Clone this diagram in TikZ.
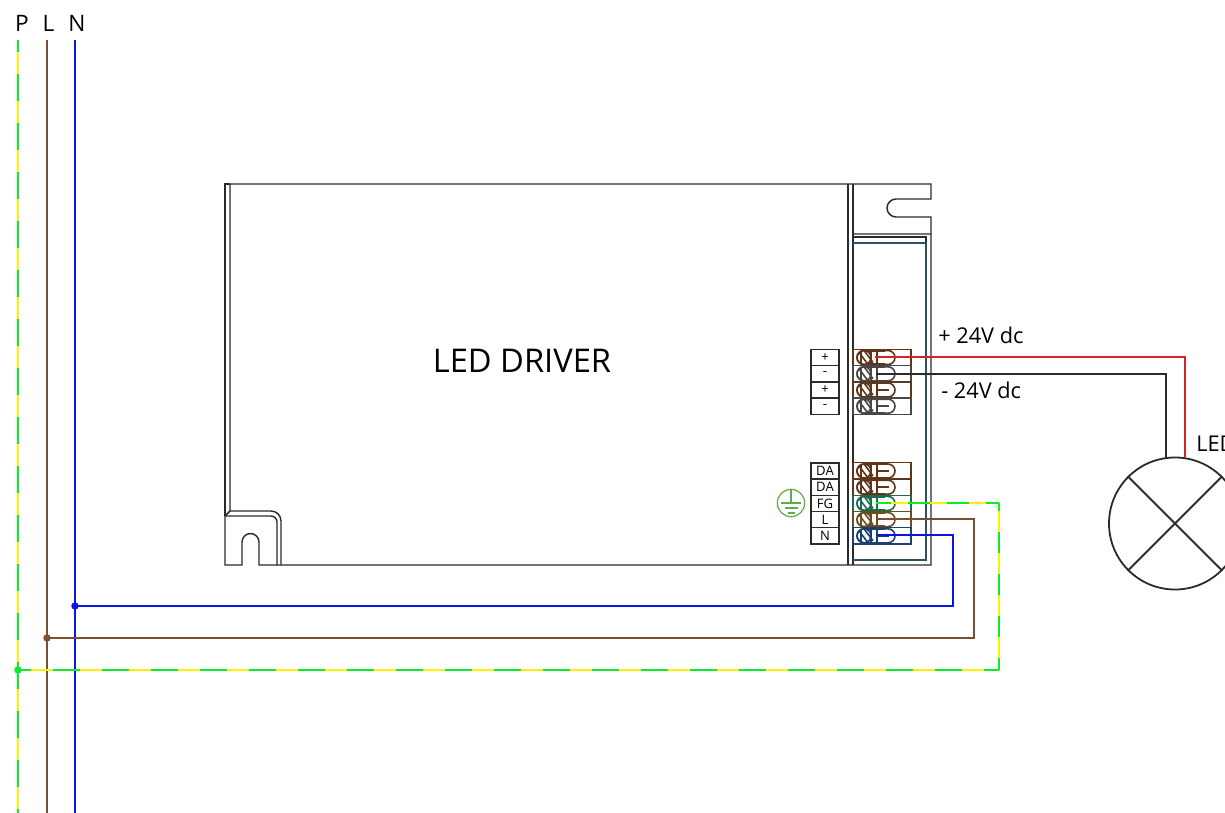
\documentclass[tikz,border=0pt]{standalone}
\usepackage{fontspec}
\setmainfont{Open Sans}
\definecolor{wblue}{HTML}{0A14E6}
\definecolor{wbrown}{HTML}{7B4F30}
\definecolor{wgreen}{HTML}{0CEB2C}
\definecolor{wyellow}{HTML}{FFF200}
\definecolor{wred}{HTML}{D2232A}
\definecolor{ink}{HTML}{2B2B2B}
\definecolor{tbrown}{HTML}{5F3418}
\definecolor{tgrey}{HTML}{474747}
\definecolor{tgreen}{HTML}{1B6B4E}
\definecolor{ttan}{HTML}{6A4E22}
\definecolor{tnavy}{HTML}{1B3F6E}
\definecolor{ground}{HTML}{5DAE4B}
\definecolor{slate}{HTML}{2F4F63}
\tikzset{
  x=0.75pt,y=-0.75pt,
  outline/.style={draw=ink,line width=1.1pt},
  thinline/.style={draw=ink,line width=0.9pt},
  wire/.style={line width=1.6pt,line join=miter},
  pe base/.style={wire,draw=wyellow},
  pe over/.style={wire,draw=wgreen,dash pattern=on 20.25pt off 16.5pt},
  pe rise/.style={wire,draw=wgreen,dash pattern=on 15.75pt off 15.75pt,dash phase=6.75pt},
  pe back/.style={wire,draw=wgreen,dash pattern=on 16.1pt off 13.1pt,dash phase=6.4pt},
  joint/.style={circle,inner sep=0pt,minimum size=5.6pt},
  tag/.style={draw=ink,line width=1pt,inner sep=0pt,minimum width=21pt,minimum height=12.2pt,font=\fontsize{9.8}{10}\selectfont,fill=white},
  termbox/.style={line width=0.9pt,inner sep=0pt,minimum width=43.5pt,minimum height=12.2pt},
  title/.style={inner sep=0pt,font=\fontsize{24.5}{28}\selectfont},
  caption/.style={inner sep=0pt,font=\fontsize{16.3}{18}\selectfont},
  phase/.style={inner sep=0pt,font=\fontsize{17}{18}\selectfont},
}
% name, centre y, colour
\newcommand{\termrow}[3]{%
  \node[termbox,draw=#3] (#1) at (882,#2) {};
  \begin{scope}[shift={(0,#2)},draw=#3,line width=1.2pt]
    \draw (864,-7) arc[start angle=270,end angle=90,radius=7] -- (888,7) arc[start angle=90,end angle=-90,radius=7] -- cycle;
    \draw (864,0) circle[radius=7];
    \draw (861,-6) -- (861,6) (871,-6) -- (871,6) (859,-5) -- (868,7) (864,-7) -- (873,5);
    \draw (877,-7) -- (877,7) (877,0) -- (889,0);
    \draw[line width=1.8pt] (866,-7) -- (885,-7) (866,7) -- (885,7);
  \end{scope}
}
\begin{document}
\begin{tikzpicture}
\useasboundingbox (0,0) rectangle (1225,813);
\clip (0,0) rectangle (1225,813);

% driver housing
\draw[outline] (230,184) -- (225,184) -- (225,516);
\draw[outline] (230,511) -- (230,184) -- (931,184) -- (931,199) -- (896,199)
   arc[start angle=270,end angle=90,radius=9] -- (931,217) -- (931,234) -- (853,234);
\draw[outline] (225,516) -- (225,565) -- (242,565) -- (242,542)
   arc[start angle=180,end angle=360,radius=8.5] -- (259,565) -- (931,565) -- (931,234);
\draw[outline] (225,516) -- (230,511) -- (271,511) arc[start angle=270,end angle=360,radius=10] -- (281,565);
\draw[outline] (225,516) -- (271,516) arc[start angle=270,end angle=360,radius=6] -- (277,565);
\draw[outline] (848,184) -- (848,565);
\draw[outline] (853,184) -- (853,565);
\draw[thinline] (853,237) -- (926,237) -- (926,243);
\draw[draw=slate,line width=1pt] (853,243) -- (926,243) -- (926,560) -- (853,560);

% terminal labels
\node[tag] (u1) at (825,357.5) {+};
\node[tag] (u2) at (825,373.8) {-};
\node[tag] (u3) at (825,390) {+};
\node[tag] (u4) at (825,406.2) {-};
\node[tag] (d1) at (825,471) {DA};
\node[tag] (d2) at (825,487.2) {DA};
\node[tag] (d3) at (825,503.4) {FG};
\node[tag] (d4) at (825,519.6) {L};
\node[tag] (d5) at (825,535.8) {N};

% terminals
\termrow{tu1}{357.5}{tbrown}
\termrow{tu2}{373.8}{tgrey}
\termrow{tu3}{390}{tbrown}
\termrow{tu4}{406.2}{tgrey}
\termrow{td1}{471}{tbrown}
\termrow{td2}{487.2}{tbrown}
\termrow{td3}{503.4}{tgreen}
\termrow{td4}{519.6}{ttan}
\termrow{td5}{535.8}{tnavy}

% earth symbol
\node[circle,draw=ground,line width=0.95pt,inner sep=0pt,minimum size=20.5pt] (earth) at (791,503) {};
\draw[ground,line width=0.95pt] (earth.north) -- (earth.center)
  (781,503) -- (801,503) (784.5,508) -- (797.5,508) (787.5,513) -- (794.5,513);

% lamp
\node[circle,draw=ink,line width=1.35pt,inner sep=0pt,minimum size=99pt] (lamp) at (1175,523.5) {};
\draw[ink,line width=1.35pt] (lamp.north west) -- (lamp.south east);
\draw[ink,line width=1.35pt] (lamp.north east) -- (lamp.south west);

% named wire ends
\coordinate (Ptop) at (18,40);
\coordinate (Pbot) at (18,813);
\coordinate (Ltop) at (47,40);
\coordinate (Lbot) at (47,813);
\coordinate (Ntop) at (75,40);
\coordinate (Nbot) at (75,813);
\coordinate (Nturn) at (953,606);
\coordinate (Lturn) at (974,638);
\coordinate (Pturn) at (999,670);
\coordinate (Pup) at (999,503);
\coordinate (wP) at (876,503);
\coordinate (wL) at (877,519);
\coordinate (wN) at (877,535);
\coordinate (wR) at (875,357);
\coordinate (wK) at (876,374);
\coordinate (lr) at (1185,458);
\coordinate (lk) at (1166,458);

% mains
\draw[pe base] (Ptop) -- (Pbot);
\draw[pe over,dash phase=11.25pt] (Ptop) -- (Pbot);
\draw[wire,draw=wbrown] (Ltop) -- (Lbot);
\draw[wire,draw=wblue] (Ntop) -- (Nbot);

\node[joint,fill=wblue] (jN) at (75,606) {};
\node[joint,fill=wbrown] (jL) at (47,638) {};
\node[joint,fill=wgreen] (jP) at (18,670) {};

\draw[wire,draw=wblue] (jN.center) -- (Nturn) |- (wN);
\draw[wire,draw=wbrown] (jL.center) -- (Lturn) |- (wL);
\draw[pe base] (jP.center) -- (Pturn) -- (Pup) -- (wP);
\draw[pe over,dash phase=10.5pt] (jP.center) -- (Pturn);
\draw[pe rise] (Pturn) -- (Pup);
\draw[pe back] (Pup) -- (wP);

\draw[wire,draw=wred] (wR) -| (lr);
\draw[wire,draw=ink] (wK) -| (lk);

% texts
\node[phase] (tP) at (22,23) {P};
\node[phase] (tL) at (48.5,23) {L};
\node[phase] (tN) at (77,23) {N};
\node[title] (title) at (522,361) {LED DRIVER};
\node[caption,anchor=west] (vplus) at (938,335) {+ 24V dc};
\node[caption,anchor=west] (vminus) at (941,390) {- 24V dc};
\node[caption,anchor=west] (led) at (1196,444) {LED};
\end{tikzpicture}
\end{document}
